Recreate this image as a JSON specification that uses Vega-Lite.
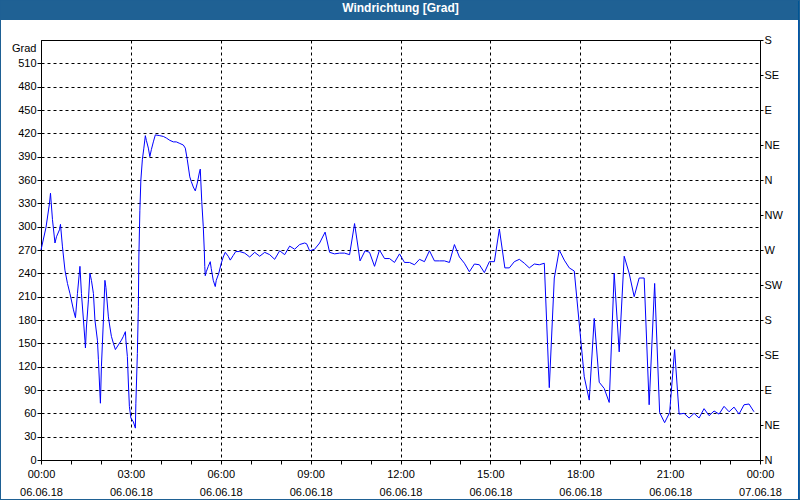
{
  "$schema": "https://vega.github.io/schema/vega-lite/v6.json",
  "width": 719,
  "height": 420,
  "autosize": {"type": "none"},
  "padding": {"left": 41, "top": 40, "right": 40, "bottom": 40},
  "background": "white",
  "title": {
    "text": "Windrichtung [Grad]",
    "color": "white",
    "font": "Liberation Sans",
    "fontSize": 12,
    "fontWeight": "bold",
    "anchor": "middle",
    "frame": "group",
    "baseline": "alphabetic",
    "offset": 0,
    "dy": 24,
    "zindex": 1
  },
  "config": {
    "view": {"stroke": "black", "strokeWidth": 1},
    "axis": {
      "labelFont": "Liberation Sans",
      "labelFontSize": 11,
      "labelColor": "black",
      "tickColor": "black",
      "tickWidth": 1,
      "domainColor": "black",
      "domainWidth": 1,
      "gridColor": "black",
      "gridDash": [3, 3],
      "gridWidth": 1,
      "gridOpacity": 1
    }
  },
  "data": {
    "values": [
      {"t": "2018-06-06T00:00", "grad": 270}, {"t": "2018-06-06T00:10", "grad": 299}, {"t": "2018-06-06T00:17", "grad": 330},
      {"t": "2018-06-06T00:19", "grad": 343}, {"t": "2018-06-06T00:23", "grad": 309}, {"t": "2018-06-06T00:28", "grad": 279},
      {"t": "2018-06-06T00:31", "grad": 287}, {"t": "2018-06-06T00:37", "grad": 296}, {"t": "2018-06-06T00:39", "grad": 303},
      {"t": "2018-06-06T00:43", "grad": 274}, {"t": "2018-06-06T00:48", "grad": 244}, {"t": "2018-06-06T00:53", "grad": 227},
      {"t": "2018-06-06T00:58", "grad": 214}, {"t": "2018-06-06T01:05", "grad": 193}, {"t": "2018-06-06T01:09", "grad": 183},
      {"t": "2018-06-06T01:13", "grad": 214}, {"t": "2018-06-06T01:18", "grad": 249}, {"t": "2018-06-06T01:21", "grad": 214},
      {"t": "2018-06-06T01:25", "grad": 180}, {"t": "2018-06-06T01:28", "grad": 154}, {"t": "2018-06-06T01:29", "grad": 144},
      {"t": "2018-06-06T01:31", "grad": 171}, {"t": "2018-06-06T01:35", "grad": 206}, {"t": "2018-06-06T01:38", "grad": 240},
      {"t": "2018-06-06T01:41", "grad": 231}, {"t": "2018-06-06T01:45", "grad": 214}, {"t": "2018-06-06T01:48", "grad": 180},
      {"t": "2018-06-06T01:53", "grad": 154}, {"t": "2018-06-06T01:55", "grad": 129}, {"t": "2018-06-06T01:58", "grad": 86},
      {"t": "2018-06-06T01:59", "grad": 73}, {"t": "2018-06-06T02:01", "grad": 120}, {"t": "2018-06-06T02:05", "grad": 180},
      {"t": "2018-06-06T02:08", "grad": 231}, {"t": "2018-06-06T02:10", "grad": 222}, {"t": "2018-06-06T02:15", "grad": 184},
      {"t": "2018-06-06T02:18", "grad": 171}, {"t": "2018-06-06T02:21", "grad": 159}, {"t": "2018-06-06T02:25", "grad": 150},
      {"t": "2018-06-06T02:29", "grad": 142}, {"t": "2018-06-06T02:35", "grad": 148}, {"t": "2018-06-06T02:41", "grad": 154},
      {"t": "2018-06-06T02:45", "grad": 159}, {"t": "2018-06-06T02:49", "grad": 165}, {"t": "2018-06-06T02:50", "grad": 154},
      {"t": "2018-06-06T02:53", "grad": 133}, {"t": "2018-06-06T02:55", "grad": 99}, {"t": "2018-06-06T02:57", "grad": 69},
      {"t": "2018-06-06T03:00", "grad": 54}, {"t": "2018-06-06T03:05", "grad": 49}, {"t": "2018-06-06T03:09", "grad": 41},
      {"t": "2018-06-06T03:10", "grad": 73}, {"t": "2018-06-06T03:13", "grad": 137}, {"t": "2018-06-06T03:15", "grad": 197},
      {"t": "2018-06-06T03:16", "grad": 261}, {"t": "2018-06-06T03:18", "grad": 321}, {"t": "2018-06-06T03:20", "grad": 360},
      {"t": "2018-06-06T03:23", "grad": 386}, {"t": "2018-06-06T03:26", "grad": 401}, {"t": "2018-06-06T03:29", "grad": 417},
      {"t": "2018-06-06T03:31", "grad": 411}, {"t": "2018-06-06T03:35", "grad": 401}, {"t": "2018-06-06T03:38", "grad": 390},
      {"t": "2018-06-06T03:41", "grad": 399}, {"t": "2018-06-06T03:45", "grad": 409}, {"t": "2018-06-06T03:49", "grad": 418},
      {"t": "2018-06-06T03:58", "grad": 417}, {"t": "2018-06-06T04:05", "grad": 416}, {"t": "2018-06-06T04:11", "grad": 414},
      {"t": "2018-06-06T04:18", "grad": 411}, {"t": "2018-06-06T04:25", "grad": 409}, {"t": "2018-06-06T04:31", "grad": 409},
      {"t": "2018-06-06T04:38", "grad": 407}, {"t": "2018-06-06T04:45", "grad": 405}, {"t": "2018-06-06T04:49", "grad": 401},
      {"t": "2018-06-06T04:53", "grad": 386}, {"t": "2018-06-06T04:58", "grad": 364}, {"t": "2018-06-06T05:01", "grad": 358},
      {"t": "2018-06-06T05:05", "grad": 351}, {"t": "2018-06-06T05:09", "grad": 346}, {"t": "2018-06-06T05:13", "grad": 356},
      {"t": "2018-06-06T05:17", "grad": 369}, {"t": "2018-06-06T05:19", "grad": 374}, {"t": "2018-06-06T05:20", "grad": 360},
      {"t": "2018-06-06T05:22", "grad": 332}, {"t": "2018-06-06T05:25", "grad": 300}, {"t": "2018-06-06T05:27", "grad": 270},
      {"t": "2018-06-06T05:28", "grad": 249}, {"t": "2018-06-06T05:29", "grad": 237}, {"t": "2018-06-06T05:31", "grad": 242},
      {"t": "2018-06-06T05:35", "grad": 249}, {"t": "2018-06-06T05:39", "grad": 255}, {"t": "2018-06-06T05:41", "grad": 246},
      {"t": "2018-06-06T05:45", "grad": 231}, {"t": "2018-06-06T05:49", "grad": 223}, {"t": "2018-06-06T05:51", "grad": 231},
      {"t": "2018-06-06T05:56", "grad": 240}, {"t": "2018-06-06T06:01", "grad": 253}, {"t": "2018-06-06T06:05", "grad": 261},
      {"t": "2018-06-06T06:09", "grad": 267}, {"t": "2018-06-06T06:15", "grad": 262}, {"t": "2018-06-06T06:19", "grad": 257},
      {"t": "2018-06-06T06:25", "grad": 263}, {"t": "2018-06-06T06:30", "grad": 268}, {"t": "2018-06-06T06:38", "grad": 268},
      {"t": "2018-06-06T06:48", "grad": 266}, {"t": "2018-06-06T06:58", "grad": 261}, {"t": "2018-06-06T07:08", "grad": 267},
      {"t": "2018-06-06T07:18", "grad": 262}, {"t": "2018-06-06T07:28", "grad": 267}, {"t": "2018-06-06T07:38", "grad": 264},
      {"t": "2018-06-06T07:48", "grad": 258}, {"t": "2018-06-06T07:58", "grad": 269}, {"t": "2018-06-06T08:08", "grad": 264},
      {"t": "2018-06-06T08:18", "grad": 275}, {"t": "2018-06-06T08:28", "grad": 271}, {"t": "2018-06-06T08:38", "grad": 277},
      {"t": "2018-06-06T08:48", "grad": 279}, {"t": "2018-06-06T08:52", "grad": 278}, {"t": "2018-06-06T08:58", "grad": 269},
      {"t": "2018-06-06T09:08", "grad": 271}, {"t": "2018-06-06T09:18", "grad": 279}, {"t": "2018-06-06T09:29", "grad": 293},
      {"t": "2018-06-06T09:38", "grad": 267}, {"t": "2018-06-06T09:48", "grad": 265}, {"t": "2018-06-06T09:58", "grad": 266},
      {"t": "2018-06-06T10:08", "grad": 266}, {"t": "2018-06-06T10:18", "grad": 264}, {"t": "2018-06-06T10:28", "grad": 304},
      {"t": "2018-06-06T10:39", "grad": 256}, {"t": "2018-06-06T10:49", "grad": 269}, {"t": "2018-06-06T10:58", "grad": 267},
      {"t": "2018-06-06T11:08", "grad": 249}, {"t": "2018-06-06T11:18", "grad": 270}, {"t": "2018-06-06T11:28", "grad": 259},
      {"t": "2018-06-06T11:38", "grad": 259}, {"t": "2018-06-06T11:48", "grad": 254}, {"t": "2018-06-06T11:58", "grad": 265},
      {"t": "2018-06-06T12:08", "grad": 254}, {"t": "2018-06-06T12:18", "grad": 254}, {"t": "2018-06-06T12:28", "grad": 251},
      {"t": "2018-06-06T12:38", "grad": 258}, {"t": "2018-06-06T12:48", "grad": 255}, {"t": "2018-06-06T12:58", "grad": 269},
      {"t": "2018-06-06T13:08", "grad": 256}, {"t": "2018-06-06T13:18", "grad": 256}, {"t": "2018-06-06T13:28", "grad": 256},
      {"t": "2018-06-06T13:38", "grad": 254}, {"t": "2018-06-06T13:48", "grad": 277}, {"t": "2018-06-06T13:58", "grad": 261},
      {"t": "2018-06-06T14:08", "grad": 253}, {"t": "2018-06-06T14:18", "grad": 242}, {"t": "2018-06-06T14:28", "grad": 252},
      {"t": "2018-06-06T14:38", "grad": 251}, {"t": "2018-06-06T14:48", "grad": 241}, {"t": "2018-06-06T14:58", "grad": 255},
      {"t": "2018-06-06T15:08", "grad": 255}, {"t": "2018-06-06T15:18", "grad": 297}, {"t": "2018-06-06T15:29", "grad": 247},
      {"t": "2018-06-06T15:38", "grad": 247}, {"t": "2018-06-06T15:48", "grad": 255}, {"t": "2018-06-06T15:58", "grad": 258},
      {"t": "2018-06-06T16:08", "grad": 253}, {"t": "2018-06-06T16:18", "grad": 247}, {"t": "2018-06-06T16:28", "grad": 252},
      {"t": "2018-06-06T16:38", "grad": 251}, {"t": "2018-06-06T16:48", "grad": 253}, {"t": "2018-06-06T16:58", "grad": 93},
      {"t": "2018-06-06T17:08", "grad": 234}, {"t": "2018-06-06T17:18", "grad": 270}, {"t": "2018-06-06T17:28", "grad": 257},
      {"t": "2018-06-06T17:38", "grad": 247}, {"t": "2018-06-06T17:48", "grad": 243}, {"t": "2018-06-06T17:58", "grad": 175},
      {"t": "2018-06-06T18:08", "grad": 107}, {"t": "2018-06-06T18:18", "grad": 77}, {"t": "2018-06-06T18:28", "grad": 182},
      {"t": "2018-06-06T18:38", "grad": 100}, {"t": "2018-06-06T18:48", "grad": 92}, {"t": "2018-06-06T18:58", "grad": 74},
      {"t": "2018-06-06T19:08", "grad": 240}, {"t": "2018-06-06T19:18", "grad": 139}, {"t": "2018-06-06T19:28", "grad": 262},
      {"t": "2018-06-06T19:38", "grad": 240}, {"t": "2018-06-06T19:48", "grad": 210}, {"t": "2018-06-06T19:58", "grad": 234},
      {"t": "2018-06-06T20:08", "grad": 234}, {"t": "2018-06-06T20:18", "grad": 71}, {"t": "2018-06-06T20:29", "grad": 227},
      {"t": "2018-06-06T20:39", "grad": 61}, {"t": "2018-06-06T20:49", "grad": 48}, {"t": "2018-06-06T20:59", "grad": 61},
      {"t": "2018-06-06T21:09", "grad": 142}, {"t": "2018-06-06T21:18", "grad": 59}, {"t": "2018-06-06T21:28", "grad": 60},
      {"t": "2018-06-06T21:38", "grad": 54}, {"t": "2018-06-06T21:48", "grad": 60}, {"t": "2018-06-06T21:58", "grad": 54},
      {"t": "2018-06-06T22:08", "grad": 66}, {"t": "2018-06-06T22:18", "grad": 57}, {"t": "2018-06-06T22:28", "grad": 63},
      {"t": "2018-06-06T22:38", "grad": 59}, {"t": "2018-06-06T22:48", "grad": 69}, {"t": "2018-06-06T22:58", "grad": 62},
      {"t": "2018-06-06T23:08", "grad": 68}, {"t": "2018-06-06T23:18", "grad": 59}, {"t": "2018-06-06T23:28", "grad": 71},
      {"t": "2018-06-06T23:38", "grad": 72}, {"t": "2018-06-06T23:48", "grad": 62}
    ]
  },
  "resolve": {"axis": {"x": "independent", "y": "independent"}},
  "layer": [
    {
      "mark": {"type": "rect", "color": "#1F6194", "clip": false},
      "encoding": {
        "x": {"datum": {"year": 2018, "month": 6, "date": 5, "hours": 22, "minutes": 38}, "type": "temporal", "axis": null,
              "scale": {"domain": [{"year": 2018, "month": 6, "date": 6}, {"year": 2018, "month": 6, "date": 7}]}},
        "x2": {"datum": {"year": 2018, "month": 6, "date": 7, "hours": 1, "minutes": 20}},
        "y": {"datum": 565.7, "type": "quantitative", "axis": null, "scale": {"domain": [0, 540], "nice": false}},
        "y2": {"datum": 591.4}
      }
    },
    {
      "mark": {"type": "rect", "fill": "transparent", "stroke": "#1F6194", "strokeWidth": 1, "clip": false},
      "encoding": {
        "x": {"datum": {"year": 2018, "month": 6, "date": 5, "hours": 22, "minutes": 38, "seconds": 53}, "type": "temporal", "axis": null,
              "scale": {"domain": [{"year": 2018, "month": 6, "date": 6}, {"year": 2018, "month": 6, "date": 7}]}},
        "x2": {"datum": {"year": 2018, "month": 6, "date": 7, "hours": 1, "minutes": 19, "seconds": 5}},
        "y": {"datum": -50.79, "type": "quantitative", "scale": {"domain": [0, 540], "nice": false},
              "axis": {
                "orient": "right",
                "title": null,
                "values": [0, 45, 90, 135, 180, 225, 270, 315, 360, 405, 450, 495, 540],
                "labelExpr": "['N','NE','E','SE','S','SW','W','NW','N','NE','E','SE','S'][round(datum.value/45)]",
                "grid": false,
                "tickSize": 3,
                "labelPadding": 1,
                "labelFlush": false,
                "labelOverlap": false
              }},
        "y2": {"datum": 590.8}
      }
    },
    {
      "mark": {"type": "line", "color": "#0000FF", "strokeWidth": 1},
      "encoding": {
        "x": {
          "field": "t",
          "type": "temporal",
          "scale": {"domain": [{"year": 2018, "month": 6, "date": 6}, {"year": 2018, "month": 6, "date": 7}]},
          "axis": {
            "orient": "bottom",
            "title": null,
            "values": [
              {"year": 2018, "month": 6, "date": 6, "hours": 0}, {"year": 2018, "month": 6, "date": 6, "hours": 1},
              {"year": 2018, "month": 6, "date": 6, "hours": 2}, {"year": 2018, "month": 6, "date": 6, "hours": 3},
              {"year": 2018, "month": 6, "date": 6, "hours": 4}, {"year": 2018, "month": 6, "date": 6, "hours": 5},
              {"year": 2018, "month": 6, "date": 6, "hours": 6}, {"year": 2018, "month": 6, "date": 6, "hours": 7},
              {"year": 2018, "month": 6, "date": 6, "hours": 8}, {"year": 2018, "month": 6, "date": 6, "hours": 9},
              {"year": 2018, "month": 6, "date": 6, "hours": 10}, {"year": 2018, "month": 6, "date": 6, "hours": 11},
              {"year": 2018, "month": 6, "date": 6, "hours": 12}, {"year": 2018, "month": 6, "date": 6, "hours": 13},
              {"year": 2018, "month": 6, "date": 6, "hours": 14}, {"year": 2018, "month": 6, "date": 6, "hours": 15},
              {"year": 2018, "month": 6, "date": 6, "hours": 16}, {"year": 2018, "month": 6, "date": 6, "hours": 17},
              {"year": 2018, "month": 6, "date": 6, "hours": 18}, {"year": 2018, "month": 6, "date": 6, "hours": 19},
              {"year": 2018, "month": 6, "date": 6, "hours": 20}, {"year": 2018, "month": 6, "date": 6, "hours": 21},
              {"year": 2018, "month": 6, "date": 6, "hours": 22}, {"year": 2018, "month": 6, "date": 6, "hours": 23},
              {"year": 2018, "month": 6, "date": 7, "hours": 0}
            ],
            "labelExpr": "hours(datum.value) % 3 === 0 ? [timeFormat(datum.value, '%H:%M'), timeFormat(datum.value, '%d.%m.%y')] : ''",
            "labelLineHeight": 18,
            "labelPadding": 4,
            "labelFlush": false,
            "labelOverlap": false,
            "tickSize": 4,
            "grid": true,
            "gridOpacity": {"condition": {"test": "hours(datum.value) % 3 === 0", "value": 1}, "value": 0}
          }
        },
        "y": {
          "field": "grad",
          "type": "quantitative",
          "scale": {"domain": [0, 540], "nice": false},
          "axis": {
            "orient": "left",
            "values": [0, 30, 60, 90, 120, 150, 180, 210, 240, 270, 300, 330, 360, 390, 420, 450, 480, 510],
            "title": "Grad",
            "titleAngle": 0,
            "titleAlign": "right",
            "titleBaseline": "top",
            "titleX": -5,
            "titleY": 2,
            "titleFont": "Liberation Sans",
            "titleFontSize": 11,
            "titleFontWeight": "normal",
            "titleColor": "black",
            "tickSize": 4,
            "labelPadding": 1,
            "labelFlush": false,
            "labelOverlap": false,
            "grid": true
          }
        }
      }
    }
  ]
}
